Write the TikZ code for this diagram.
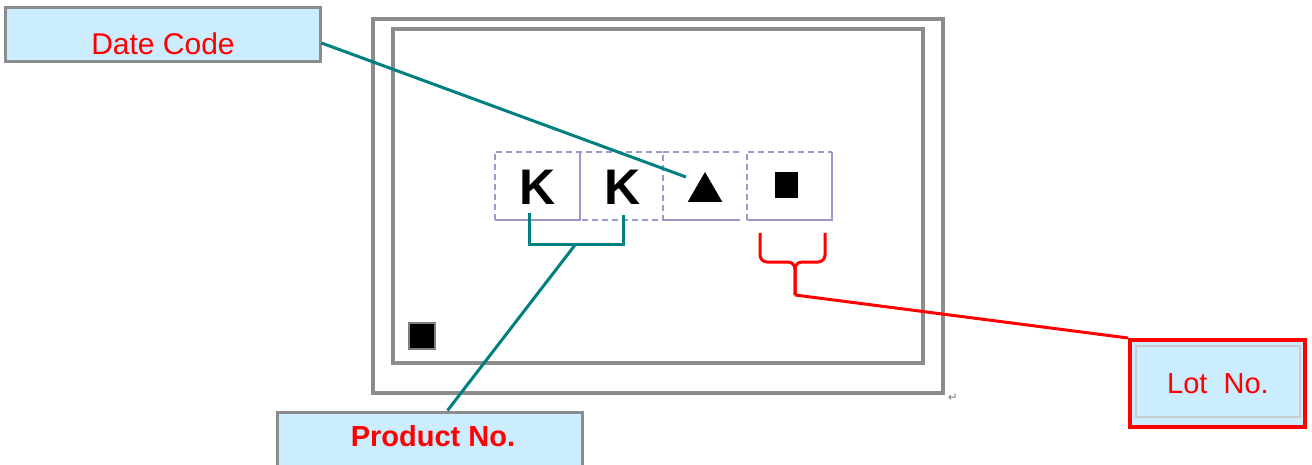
\documentclass[tikz,border=0pt]{standalone}
\usepackage{fontspec}
\setmainfont{Liberation Sans}
\newfontfamily\symfont{DejaVu Sans}
\usetikzlibrary{shapes.geometric,calc}
\definecolor{lblue}{HTML}{CCECFF}
\definecolor{tealc}{HTML}{008080}
\definecolor{framec}{HTML}{8C8C8C}
\definecolor{lav}{HTML}{9A9ACD}
\begin{document}
\begin{tikzpicture}[x=1pt,y=-1pt,
  labelbox/.style={draw=framec, line width=3pt, fill=lblue, inner sep=0pt},
  labeltext/.style={text=red, anchor=base, inner sep=0pt},
  framebox/.style={draw=framec, line width=3.5pt, inner sep=0pt},
  markbox/.style={inner sep=0pt, minimum height=68pt},
  markdash/.style={draw=lav, line width=1.8pt, dash pattern=on 6pt off 4pt},
  marksolid/.style={draw=lav, line width=1.8pt},
  tealline/.style={draw=tealc, line width=3pt},
  redline/.style={draw=red, line width=3pt},
  kchar/.style={font=\bfseries\fontsize{50}{50}\selectfont, anchor=base, inner sep=0pt}]
\useasboundingbox (0,0) rectangle (1312,465);
\fill[white] (0,0) rectangle (1312,465);

% frames
\node[framebox, minimum width=570pt, minimum height=374pt] (outer) at (658,206) {};
\node[framebox, minimum width=530pt, minimum height=334pt] (inner) at (658,196) {};
\node[text=gray, font=\symfont\fontsize{12}{12}\selectfont] (ret) at (953,398) {↵};

% corner mark
\node[fill=black, draw=gray, line width=2pt, minimum size=26pt, inner sep=0pt] (cornersq) at (421.5,335.5) {};

% marking boxes
\node[markbox, minimum width=85pt] (b1) at (537.5,186) {};
\node[markbox, minimum width=83pt] (b2) at (621.5,186) {};
\node[markbox, minimum width=77pt] (b3) at (701.5,186) {};
\node[markbox, minimum width=85pt] (b4) at (789.5,186) {};
\draw[markdash] (b1.south west) -- (b1.north west) -- (b2.north east) -- (b2.south east) -- (b2.south west);
\draw[marksolid] (b1.north east) -- (b1.south east) -- (b1.south west);
\draw[markdash] (b3.north west) -- (b3.north east);
\draw[marksolid] (b3.south west) -- (b3.south east);
\draw[markdash] (b4.south west) -- (b4.north west) -- (b4.north east);
\draw[marksolid] (b4.north east) -- (b4.south east) -- (b4.south west);

\node[kchar] (k1) at (538,205) {K};
\node[kchar] (k2) at (623,205) {K};
\node[regular polygon, regular polygon sides=3, fill=black, minimum size=40pt, inner sep=0pt] (tri) at (705,192) {};
\node[fill=black, minimum width=23pt, minimum height=26pt, inner sep=0pt] (sq) at (786.5,185) {};

% label boxes
\node[labelbox, minimum width=315pt, minimum height=54pt] (date) at (162.5,35) {};
\node[labeltext, font=\fontsize{30}{30}\selectfont] (datetext) at (163,55) {Date Code};

\node[labelbox, minimum width=305pt, minimum height=60pt] (product) at (429.5,442) {};
\node[labeltext, font=\bfseries\fontsize{29}{29}\selectfont] (producttext) at (433,446) {Product No.};

\node[draw=red, line width=4pt, fill=lblue, minimum width=175pt, minimum height=87pt, inner sep=0pt] (lot) at (1217.5,383.5) {};
\draw[draw=black!20, line width=1.5pt] ($(lot.north west)+(8,8)$) rectangle ($(lot.south east)+(-7,-12)$);
\node[labeltext, font=\fontsize{29}{29}\selectfont] (lottext) at (1218,393) {Lot\ \ No.};

% connectors
\coordinate (dcend) at (686,177);
\draw[tealline] ($(date.east)+(0,8)$) -- (dcend);

\coordinate (pb1) at (529,213);
\coordinate (pb2) at (623,215);
\coordinate (pbm) at (575,245);
\draw[tealline] (pb1) -- (pb1 |- pbm) -- (pb2 |- pbm) -- (pb2);
\draw[tealline] (pbm) -- ($(product.north)+(18,0)$);

\coordinate (rl) at (760,233);
\coordinate (rr) at (825,233);
\coordinate (rm) at (795,262);
\coordinate (rs) at (795,295);
\draw[redline, rounded corners=7pt] (rl) -- (rl |- rm) -- (rm) -- (rs);
\draw[redline, rounded corners=7pt] (rr) -- (rr |- rm) -- (rm) -- (rs);
\draw[redline] (rs) -- (lot.north west);
\end{tikzpicture}
\end{document}
